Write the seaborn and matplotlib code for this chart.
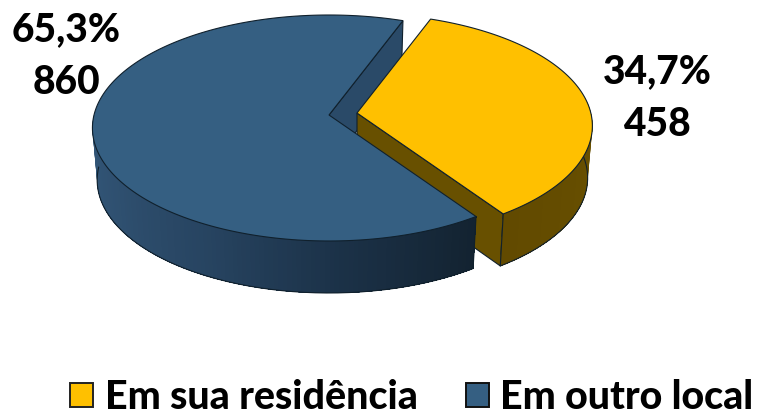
import numpy as np
import matplotlib
matplotlib.use('Agg')
import matplotlib.pyplot as plt
from matplotlib.patches import Patch
import seaborn as sns

# dados
categorias = ['Em sua residência', 'Em outro local']
valores = [458, 860]
percentuais = ['34,7%', '65,3%']

cor_amarelo = '#FFC000'
cor_azul = '#355F82'

sns.set_theme(style='white')
plt.rcParams['font.family'] = ['Lato', 'DejaVu Sans']

# geometria da pizza em perspectiva (pixels)
ANG_INICIO = 69.6
A, B, K = 235.0, 111.5, 0.115
ALTURA = 52.0
ENCOLHE = 0.98


def projeta(ang, r, cx, cy, baixo=False):
    t = np.radians(ang)
    u, v = r * np.cos(t), r * np.sin(t)
    w = 1 + K * v
    x, y = A * u / w, -B * v / w
    if baixo:
        return cx + x * ENCOLHE, cy + y + ALTURA
    return cx + x, cy + y


def arco(a0, a1, cx, cy, baixo=False, n=200, r=1.0):
    return projeta(np.linspace(a0, a1, n), r, cx, cy, baixo)


def topo(ax, a0, a1, cx, cy, cor, r=1.0):
    x, y = arco(a0, a1, cx, cy, r=r)
    ax.fill(np.r_[cx, x], np.r_[cy, y], fc=cor, ec='#10202c', lw=0.8, zorder=ax.z)
    ax.z += 1


def parede_radial(ax, ang, cx, cy, cor, r=1.0):
    xa, ya = projeta(ang, r, cx, cy)
    xb, yb = projeta(ang, r, cx, cy, True)
    ax.fill([cx, xa, xb, cx], [cy, ya, yb, cy + ALTURA], fc=cor, ec='#10202c', lw=0.8, zorder=ax.z)
    ax.z += 1


def parede_externa(ax, a0, a1, cx, cy, cores, r=1.0):
    # faixas sobrepostas para simular o gradiente sem emendas
    angs = np.linspace(a0, a1, len(cores) + 1)
    for i, cor in enumerate(cores):
        xt, yt = arco(angs[i], a1, cx, cy, n=80, r=r)
        xb, yb = arco(angs[i], a1, cx, cy, True, n=80, r=r)
        ax.fill(np.r_[xt, xb[::-1]], np.r_[yt, yb[::-1]], fc=cor, ec='none', zorder=ax.z)
        ax.z += 0.001
    ax.z += 1
    xb, yb = arco(a0, a1, cx, cy, True, r=r)
    ax.plot(xb, yb, color='#10202c', lw=0.8, zorder=ax.z)
    xa, ya = projeta(a1, r, cx, cy)
    xc, yc = projeta(a1, r, cx, cy, True)
    ax.plot([xa, xc], [ya, yc], color='#10202c', lw=0.8, zorder=ax.z)
    ax.z += 1


fig = plt.figure(figsize=(7.6, 4.16), dpi=100)
ax = fig.add_axes([0, 0, 1, 1])
ax.set_xlim(0, 760)
ax.set_ylim(416, 0)
ax.axis('off')
ax.z = 2

fracao = 360.0 * valores[0] / sum(valores)
fim_amarelo = ANG_INICIO - fracao
centro_azul = (329, 115)
centro_amarelo = (357, 113)
R_AMARELO = 0.995

# parede interna do azul fica atras da fatia amarela
parede_radial(ax, ANG_INICIO, *centro_azul, '#2A4A68')

parede_radial(ax, fim_amarelo, *centro_amarelo, '#685000', r=R_AMARELO)
parede_externa(ax, 8, fim_amarelo, *centro_amarelo,
               sns.blend_palette(['#6E5400', '#664E00', '#624A00'], 40), r=R_AMARELO)
topo(ax, ANG_INICIO, fim_amarelo, *centro_amarelo, cor_amarelo, r=R_AMARELO)

parede_externa(ax, 180, 360 + fim_amarelo, *centro_azul,
               sns.blend_palette(['#33587A', '#2F5070', '#274461', '#1B3147', '#132331'], 120))
topo(ax, fim_amarelo, ANG_INICIO - 360, *centro_azul, cor_azul)

# rotulos
estilo = dict(ha='center', va='center', fontsize=28, fontweight='black', color='black', zorder=20)
ax.text(657, 72, percentuais[0], **estilo)
ax.text(657, 124, str(valores[0]), **estilo)
ax.text(66, 30, percentuais[1], **estilo)
ax.text(66, 82, str(valores[1]), **estilo)

handles = [Patch(fc=cor_amarelo, ec='#222222', lw=1.4), Patch(fc=cor_azul, ec='#111111', lw=1.4)]
ax.legend(handles, categorias, ncol=2, frameon=False, loc='lower left',
          bbox_to_anchor=(70 / 760, 0 / 416), borderaxespad=0, borderpad=0,
          prop=dict(family='Lato', weight='black', size=28.4), labelcolor='black',
          handlelength=0.58, handleheight=0.58, handletextpad=0.3, columnspacing=1.22)

fig.savefig('out.png', dpi=100, facecolor='white')
